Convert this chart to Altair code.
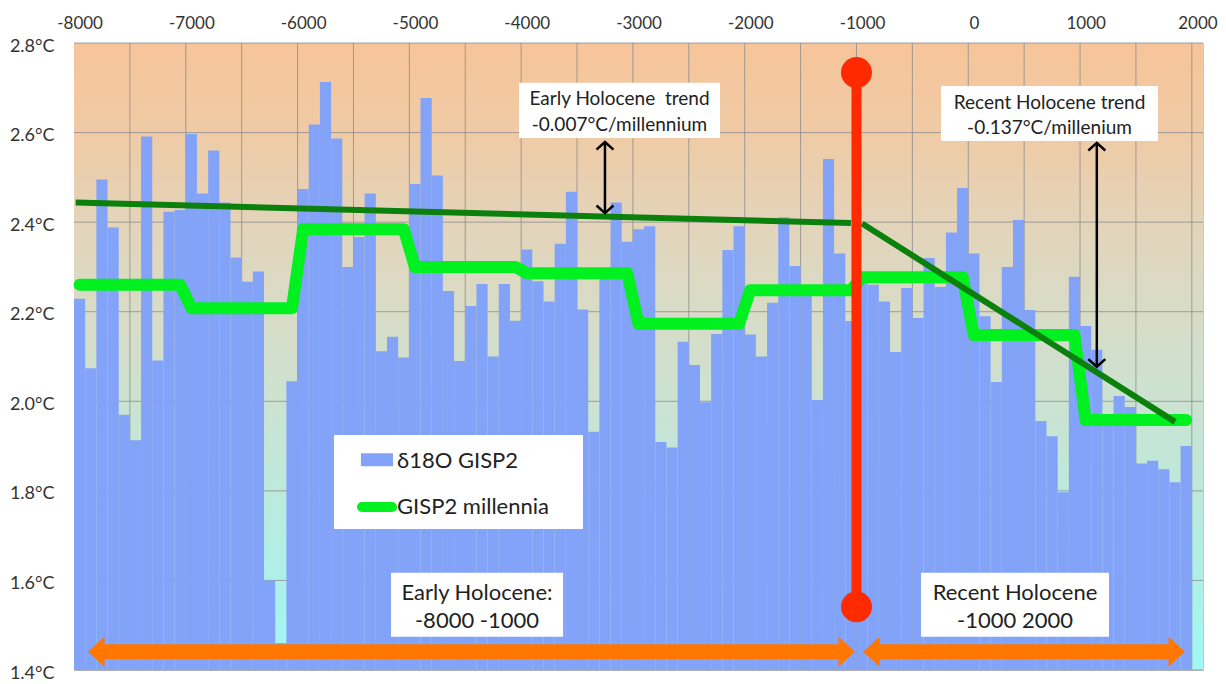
import altair as alt
import pandas as pd

# ---------------- data ----------------
bar_years = [-8000, -7900, -7800, -7700, -7600, -7500, -7400, -7300, -7200, -7100,
             -7000, -6900, -6800, -6700, -6600, -6500, -6400, -6300, -6200, -6100,
             -6000, -5900, -5800, -5700, -5600, -5500, -5400, -5300, -5200, -5100,
             -5000, -4900, -4800, -4700, -4600, -4500, -4400, -4300, -4200, -4100,
             -4000, -3900, -3800, -3700, -3600, -3500, -3400, -3300, -3200, -3100,
             -3000, -2900, -2800, -2700, -2600, -2500, -2400, -2300, -2200, -2100,
             -2000, -1900, -1800, -1700, -1600, -1500, -1400, -1300, -1200, -1100,
             -1000, -900, -800, -700, -600, -500, -400, -300, -200, -100,
             0, 100, 200, 300, 400, 500, 600, 700, 800, 900,
             1000, 1100, 1200, 1300, 1400, 1500, 1600, 1700, 1800, 1900]
d18o_values = [2.229, 2.074, 2.495, 2.388, 1.970, 1.913, 2.591, 2.091, 2.423, 2.427,
               2.597, 2.464, 2.560, 2.444, 2.321, 2.267, 2.290, 1.600, 1.460, 2.045,
               2.474, 2.618, 2.713, 2.587, 2.300, 2.367, 2.464, 2.112, 2.144, 2.098,
               2.485, 2.677, 2.504, 2.246, 2.090, 2.213, 2.262, 2.100, 2.262, 2.180,
               2.339, 2.268, 2.223, 2.352, 2.468, 2.205, 1.932, 2.292, 2.444, 2.356,
               2.384, 2.391, 1.909, 1.897, 2.133, 2.081, 1.998, 2.150, 2.338, 2.391,
               2.149, 2.100, 2.220, 2.411, 2.302, 2.240, 2.003, 2.541, 2.330, 2.179,
               2.270, 2.260, 2.223, 2.110, 2.253, 2.186, 2.320, 2.255, 2.377, 2.476,
               2.330, 2.190, 2.043, 2.300, 2.405, 2.204, 1.956, 1.922, 1.797, 2.278,
               2.168, 2.115, 1.970, 2.012, 1.987, 1.861, 1.867, 1.848, 1.819, 1.900]
bar_half_width = 50

millennia_years = [-8000, -7100, -7000, -6100, -6000, -5100, -5000, -4100, -4000, -3100,
                   -3000, -2100, -2000, -1100, -1000, -100, 0, 900, 1000, 1900]
millennia_values = [2.260, 2.260, 2.208, 2.208, 2.384, 2.384, 2.300, 2.300, 2.286, 2.286,
                    2.173, 2.173, 2.248, 2.248, 2.277, 2.277, 2.148, 2.148, 1.958, 1.958]

early_trend_years = [-8035, -1100]
early_trend_values = [2.444, 2.398]
recent_trend_years = [-1000, 1800]
recent_trend_values = [2.397, 1.954]

x_domain = [-8050, 2050]
y_domain = [1.4, 2.8]
x_ticks = [-8000, -7000, -6000, -5000, -4000, -3000, -2000, -1000, 0, 1000, 2000]
y_ticks = [1.4, 1.6, 1.8, 2.0, 2.2, 2.4, 2.6, 2.8]
x_grid = [-7550, -7050, -6550, -6050, -5550, -5050, -4550, -4050, -3550, -3050,
          -2550, -2050, -1550, -1050, -550, -50, 450, 950, 1450, 1950]

divider_year = [-1050]
divider_values = [1.541, 2.734]

arrow_y = 1.441
left_arrow_ends = [-7925, -1063]
right_arrow_ends = [-991, 1889]

trend_arrow_years = [-3300, 1100]
trend_arrow_tops = [2.579, 2.577]
trend_arrow_bottoms = [2.420, 2.077]

# annotation boxes: x0, x1, y0, y1
box_x0 = [-5214, -473, -4069, -294, -5724]
box_x1 = [-3675, 1209, -2271, 1647, -3497]
box_y0 = [1.474, 1.474, 2.588, 2.581, 1.715]
box_y1 = [1.617, 1.617, 2.711, 2.704, 1.925]

label_text = ["Early Holocene:", "-8000 -1000", "Recent Holocene", "-1000 2000"]
label_x = [-4445, -4445, 368, 368]
label_y = [1.572, 1.510, 1.572, 1.510]

trend_text = ["Early Holocene\u00a0 trend", "-0.007°C/millennium",
              "Recent Holocene trend", "-0.137°C/millenium"]
trend_x = [-3170, -3170, 677, 677]
trend_y = [2.674, 2.618, 2.667, 2.611]

legend_text = ["δ18O GISP2", "GISP2 millennia"]
legend_text_x = [-5160, -5160]
legend_text_y = [1.866, 1.764]
legend_bar_x = [-5483, -5196]
legend_bar_y = [1.855, 1.884]
legend_line_x = [-5474, -5205]
legend_line_y = 1.764

FONT = "Lato"
BLUE = "#83A3F8"
BRIGHT_GREEN = "#00F020"
DARK_GREEN = "#0C800C"
RED = "#FF2A00"
ORANGE = "#FF7700"

xs = alt.Scale(domain=x_domain, nice=False, zero=False)
ys = alt.Scale(domain=y_domain, nice=False, zero=False)

x_axis = alt.Axis(orient="top", values=x_ticks, labelExpr="datum.value + ''",
                  grid=False, ticks=False, domain=False, labelFont=FONT,
                  labelFontSize=17, labelColor="#333333", labelPadding=15,
                  labelBaseline="alphabetic", title=None)
y_axis = alt.Axis(orient="left", values=y_ticks,
                  labelExpr="format(datum.value, '.1f') + '°C'",
                  grid=False, ticks=False, domain=False, labelFont=FONT,
                  labelFontSize=18, labelColor="#333333", labelPadding=20,
                  labelOffset=3, title=None)


def X(field):
    return alt.X(field, type="quantitative", scale=xs, axis=x_axis)


def Y(field):
    return alt.Y(field, type="quantitative", scale=ys, axis=y_axis)


# ---------------- layers ----------------
bg_df = pd.DataFrame({"x": [x_domain[0]], "x2": [x_domain[1]],
                      "y": [y_domain[0]], "y2": [y_domain[1]]})
gradient = alt.Gradient(
    gradient="linear", x1=0, x2=0, y1=0, y2=1,
    stops=[alt.GradientStop(offset=0.0, color="#F7C49A"),
           alt.GradientStop(offset=0.15, color="#EFCBA6"),
           alt.GradientStop(offset=0.29, color="#E3D4BA"),
           alt.GradientStop(offset=0.43, color="#D8DCC7"),
           alt.GradientStop(offset=0.57, color="#CCE2D1"),
           alt.GradientStop(offset=0.71, color="#BDE9DC"),
           alt.GradientStop(offset=0.86, color="#ADF0E8"),
           alt.GradientStop(offset=1.0, color="#9FF8F6")])

background = alt.Chart(bg_df).mark_rect(color=gradient).encode(
    x=X("x"), x2="x2:Q", y=Y("y"), y2="y2:Q")

hgrid = alt.Chart(pd.DataFrame({"v": y_ticks})).mark_rule(
    color="#8C8C8C", strokeWidth=1, opacity=0.8).encode(y=Y("v"))
vgrid = alt.Chart(pd.DataFrame({"v": x_grid})).mark_rule(
    color="#8C8C8C", strokeWidth=1, opacity=0.8).encode(x=X("v"))

bars_df = pd.DataFrame({"year": bar_years, "value": d18o_values})
bars_df["x0"] = bars_df["year"] - bar_half_width
bars_df["x1"] = bars_df["year"] + bar_half_width
bars_df["base"] = y_domain[0]
bars = alt.Chart(bars_df).mark_rect(color=BLUE).encode(
    x=X("x0"), x2="x1:Q", y=Y("value"), y2="base:Q")

mill = alt.Chart(pd.DataFrame({"year": millennia_years, "value": millennia_values})).mark_line(
    color=BRIGHT_GREEN, strokeWidth=12, strokeCap="round", strokeJoin="round").encode(
    x=X("year"), y=Y("value"), order="year:Q")

trend_df = pd.DataFrame({
    "year": early_trend_years + recent_trend_years,
    "value": early_trend_values + recent_trend_values,
    "seg": ["early", "early", "recent", "recent"]})
trend = alt.Chart(trend_df).mark_line(color=DARK_GREEN, strokeWidth=6).encode(
    x=X("year"), y=Y("value"), detail="seg:N")

div_df = pd.DataFrame({"year": divider_year * 2, "value": divider_values})
div_line = alt.Chart(pd.DataFrame({"year": divider_year, "lo": [divider_values[0]],
                                   "hi": [divider_values[1]]})).mark_rule(
    color=RED, strokeWidth=10).encode(x=X("year"), y=Y("lo"), y2="hi:Q")
div_dots = alt.Chart(div_df).mark_point(
    shape="circle", filled=True, color=RED, size=960, opacity=1).encode(
    x=X("year"), y=Y("value"))

shaft_df = pd.DataFrame({
    "a": [left_arrow_ends[0] + 100, right_arrow_ends[0] + 100],
    "b": [left_arrow_ends[1] - 100, right_arrow_ends[1] - 100],
    "y": [arrow_y, arrow_y]})
shafts = alt.Chart(shaft_df).mark_rule(color=ORANGE, strokeWidth=15).encode(
    x=X("a"), x2="b:Q", y=Y("y"))
heads_left = alt.Chart(pd.DataFrame({"x": [left_arrow_ends[0], right_arrow_ends[0]],
                                     "y": [arrow_y, arrow_y]})).mark_point(
    shape="M 0 0 L 1.1 -1 L 1.1 1 Z", filled=True, color=ORANGE, size=900, opacity=1).encode(
    x=X("x"), y=Y("y"))
heads_right = alt.Chart(pd.DataFrame({"x": [left_arrow_ends[1], right_arrow_ends[1]],
                                      "y": [arrow_y, arrow_y]})).mark_point(
    shape="M 0 0 L -1.1 -1 L -1.1 1 Z", filled=True, color=ORANGE, size=900, opacity=1).encode(
    x=X("x"), y=Y("y"))

boxes = alt.Chart(pd.DataFrame({"x0": box_x0, "x1": box_x1, "y0": box_y0, "y1": box_y1})).mark_rect(
    color="white").encode(x=X("x0"), x2="x1:Q", y=Y("y0"), y2="y1:Q")

labels = alt.Chart(pd.DataFrame({"t": label_text, "x": label_x, "y": label_y})).mark_text(
    font=FONT, fontSize=22, color="#222222", align="center", baseline="middle").encode(
    x=X("x"), y=Y("y"), text="t:N")

trend_labels = alt.Chart(pd.DataFrame({"t": trend_text, "x": trend_x, "y": trend_y})).mark_text(
    font=FONT, fontSize=19, color="#222222", align="center", baseline="middle").encode(
    x=X("x"), y=Y("y"), text="t:N")

tarrow_df = pd.DataFrame({"x": trend_arrow_years, "top": trend_arrow_tops, "bot": trend_arrow_bottoms})
tarrow_shaft = alt.Chart(tarrow_df).mark_rule(color="black", strokeWidth=2.5).encode(
    x=X("x"), y=Y("top"), y2="bot:Q")
tarrow_up = alt.Chart(tarrow_df).mark_point(
    shape="M -1 0.9 L 0 0 L 1 0.9", filled=False, color="black", strokeWidth=2.5,
    size=289, opacity=1).encode(x=X("x"), y=Y("top"))
tarrow_down = alt.Chart(tarrow_df).mark_point(
    shape="M -1 -0.9 L 0 0 L 1 -0.9", filled=False, color="black", strokeWidth=2.5,
    size=289, opacity=1).encode(x=X("x"), y=Y("bot"))

leg_bar = alt.Chart(pd.DataFrame({"x0": [legend_bar_x[0]], "x1": [legend_bar_x[1]],
                                  "y0": [legend_bar_y[0]], "y1": [legend_bar_y[1]]})).mark_rect(
    color=BLUE).encode(x=X("x0"), x2="x1:Q", y=Y("y0"), y2="y1:Q")
leg_line = alt.Chart(pd.DataFrame({"x0": [legend_line_x[0]], "x1": [legend_line_x[1]],
                                   "y": [legend_line_y]})).mark_rule(
    color=BRIGHT_GREEN, strokeWidth=10, strokeCap="round").encode(
    x=X("x0"), x2="x1:Q", y=Y("y"))
leg_text = alt.Chart(pd.DataFrame({"t": legend_text, "x": legend_text_x, "y": legend_text_y})).mark_text(
    font=FONT, fontSize=22, color="#222222", align="left", baseline="middle").encode(
    x=X("x"), y=Y("y"), text="t:N")

chart = alt.layer(
    background, hgrid, vgrid, bars, mill, trend, div_line, div_dots,
    shafts, heads_left, heads_right, boxes, labels, trend_labels,
    tarrow_shaft, tarrow_up, tarrow_down, leg_bar, leg_line, leg_text,
).properties(
    width=1129, height=627,
    autosize=alt.AutoSizeParams(type="none"),
    padding={"left": 66, "top": 35, "right": 15, "bottom": 13},
).configure_view(stroke="#C8C8C8", strokeWidth=1)

chart.save("out.html", embed_options={"renderer": "svg", "actions": False})
